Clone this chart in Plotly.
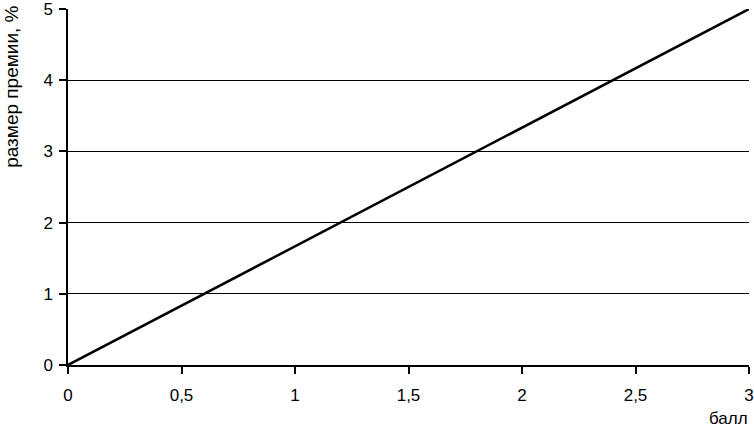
import plotly.graph_objects as go

# data
ball = [0, 3]
premia = [0, 5]

x_ticks = [0, 0.5, 1, 1.5, 2, 2.5, 3]
x_labels = ["0", "0,5", "1", "1,5", "2", "2,5", "3"]
y_ticks = [0, 1, 2, 3, 4, 5]
y_labels = ["0", "1", "2", "3", "4", "5"]

fig = go.Figure()
fig.add_trace(go.Scatter(x=ball, y=premia, mode="lines",
                         line=dict(color="black", width=2.5),
                         showlegend=False, hoverinfo="skip"))

fig.update_layout(
    width=754, height=427,
    margin=dict(l=68, r=5, t=9, b=62),
    plot_bgcolor="white", paper_bgcolor="white",
    font=dict(family="Liberation Sans, Arial, sans-serif", size=17, color="black"),
    xaxis=dict(range=[0, 3], tickvals=x_ticks, ticktext=x_labels,
               showgrid=False, zeroline=False, automargin=False,
               showline=True, linecolor="black", linewidth=1.5,
               ticks="outside", ticklen=7, tickwidth=1.5, tickcolor="black",
               ticklabelstandoff=7, ticklabeloverflow="allow"),
    yaxis=dict(range=[0, 5], tickvals=y_ticks, ticktext=y_labels,
               showgrid=True, gridcolor="black", gridwidth=1,
               zeroline=False, automargin=False,
               showline=True, linecolor="black", linewidth=1.5,
               ticks="outside", ticklen=7, tickwidth=1.5, tickcolor="black",
               ticklabelstandoff=3, ticklabeloverflow="allow"),
    annotations=[
        dict(text="балл", xref="paper", yref="paper", x=1.002, y=-0.118,
             xanchor="right", yanchor="top", showarrow=False,
             font=dict(size=17)),
        dict(text="размер премии, %", xref="paper", yref="paper",
             x=-0.084, y=1.014, xanchor="center", yanchor="top",
             textangle=-90, showarrow=False, font=dict(size=19)),
    ],
)

# the page body has a default margin; drop it so the figure fits the window
fig.write_html("out.html", config={"displayModeBar": False},
               post_script="document.body.style.margin='0px';")
